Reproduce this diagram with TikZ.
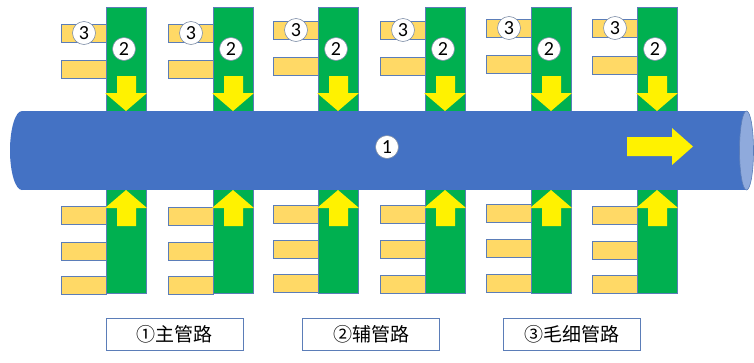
\documentclass[tikz,border=0pt]{standalone}
\usepackage{fontspec}
\setmainfont{Carlito}
\newfontfamily\cjk{Noto Sans CJK SC}
\definecolor{pipeblue}{HTML}{4472C4}
\definecolor{pipeface}{HTML}{8FAADC}
\definecolor{grn}{HTML}{00B050}
\definecolor{org}{HTML}{FFD966}
\definecolor{edgec}{HTML}{5B7DB8}
\definecolor{circedge}{HTML}{7F8FA8}
\tikzset{
 orangebar/.style={fill=org,draw=edgec,line width=0.8pt},
 greenbar/.style={fill=grn,draw=edgec,line width=0.8pt},
 yarrow/.style={fill=yellow},
 numcirc/.style={circle,fill=white,draw=circedge,line width=0.6pt,minimum size=23pt,inner sep=0pt,font=\fontsize{20}{20}\selectfont},
 labelbox/.style={draw=edgec,line width=0.9pt,fill=white,minimum width=137pt,minimum height=32pt,inner sep=0pt,font=\cjk\fontsize{19}{19}\selectfont}
}
\begin{document}
\begin{tikzpicture}[x=1pt,y=-1pt]
\useasboundingbox (0,0) rectangle (754,362);
% side branches and auxiliary pipes
\foreach \i/\g/\ua/\ub/\la/\lb/\lc in {1/106/24/60/206/242/276,2/213/24/60/207/242/276,3/318/21/57/205/240/274,4/425/21/57/205/240/275,5/531/19/55/204/239/274,6/637/19/56/206/241/275}{
  \draw[orangebar] (\g-45,\ua) rectangle (\g,\ua+18);
  \draw[orangebar] (\g-45,\ub) rectangle (\g,\ub+18);
  \draw[orangebar] (\g-45,\la) rectangle (\g,\la+18);
  \draw[orangebar] (\g-45,\lb) rectangle (\g,\lb+18);
  \draw[orangebar] (\g-45,\lc) rectangle (\g,\lc+18);
  \draw[greenbar] (\g,7) rectangle (\g+40,293);
}
% main pipe
\fill[pipeblue] (22,111) rectangle (747,190);
\fill[pipeblue] (22,150.5) ellipse [x radius=12pt, y radius=39.5pt];
\draw[fill=pipeface,draw=edgec,line width=0.6pt] (746.5,150.5) ellipse [x radius=7pt, y radius=39.5pt];
% arrows and numbers
\foreach \i/\g/\ua in {1/106/24,2/213/24,3/318/21,4/425/21,5/531/19,6/637/19}{
  \fill[yarrow] (\g+11,76) -- (\g+30,76) -- (\g+30,93) -- (\g+41,93) -- (\g+20,111) -- (\g-1,93) -- (\g+11,93) -- cycle;
  \fill[yarrow] (\g+11,226) -- (\g+30,226) -- (\g+30,208) -- (\g+41,208) -- (\g+20,190) -- (\g-1,208) -- (\g+11,208) -- cycle;
  \node[numcirc] (cthree\i) at (\g-22,\ua+9) {3};
  \node[numcirc] (ctwo\i) at (\g+18,49) {2};
}
\fill[yarrow] (627,137) -- (672,137) -- (672,128) -- (693,146.5) -- (672,165) -- (672,156) -- (627,156) -- cycle;
\node[numcirc] (cone) at (387,147) {1};
% legend
\node[labelbox] (l1) at (174.5,334) {①主管路};
\node[labelbox] (l2) at (371,334) {②辅管路};
\node[labelbox] (l3) at (571.5,334) {③毛细管路};
\end{tikzpicture}
\end{document}
